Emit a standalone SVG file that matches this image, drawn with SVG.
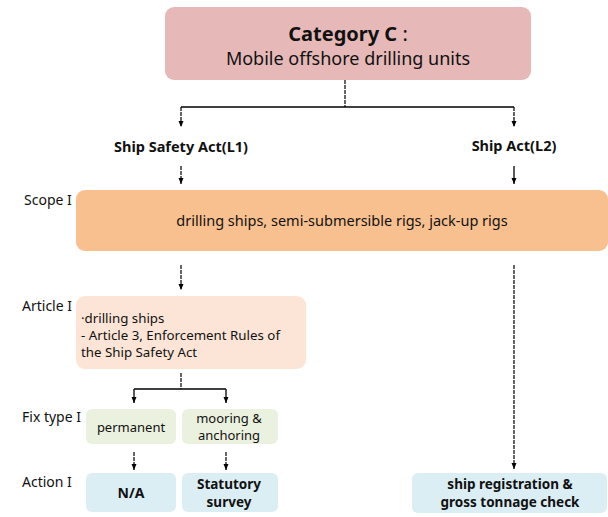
<svg xmlns="http://www.w3.org/2000/svg" width="608" height="517" viewBox="0 0 608 517">
<defs>
<marker id="arr" markerWidth="6" markerHeight="6" refX="6" refY="3" orient="auto" markerUnits="userSpaceOnUse">
<path d="M0,0.5 L6,3 L0,5.5 Z" fill="#000"/>
</marker>
</defs>
<style>
text{font-family:"Noto Sans","Open Sans",sans-serif;fill:#111}
.lbl{font-size:14px}
.b{font-weight:bold}
.c{text-anchor:middle}
.ln{fill:none;stroke:#000;stroke-width:1.3}
.dl{fill:none;stroke:#000;stroke-width:1.2;stroke-dasharray:4 1}
</style>
<rect width="608" height="517" fill="#fff"/>
<g id="connectors">
<path class="dl" d="M345,80 V107"/>
<path class="ln" d="M181,107 H514"/>
<path class="dl" d="M181,107 V127" marker-end="url(#arr)"/>
<path class="dl" d="M514,107 V127" marker-end="url(#arr)"/>
<path class="dl" d="M181,166 V184" marker-end="url(#arr)"/>
<path class="ln" d="M514,166 V184" marker-end="url(#arr)"/>
<path class="dl" d="M181,265 V290" marker-end="url(#arr)"/>
<path class="dl" d="M514,265 V469" marker-end="url(#arr)"/>
<path class="dl" d="M181,373 V389"/>
<path class="ln" d="M134,389 H226"/>
<path class="ln" d="M134,389 V403" marker-end="url(#arr)"/>
<path class="ln" d="M226,389 V403" marker-end="url(#arr)"/>
<path class="dl" d="M134,452 V470" marker-end="url(#arr)"/>
<path class="dl" d="M226,452 V470" marker-end="url(#arr)"/>
</g>
<g id="category">
<rect x="165" y="7" width="366" height="73" rx="9" fill="#E6B9B8"/>
<text x="348" y="41" class="c" style="font-size:20px"><tspan class="b">Category C</tspan> :</text>
<text x="348" y="65" class="c" style="font-size:18px">Mobile offshore drilling units</text>
</g>
<g id="l1">
<text x="181" y="152" class="c b" style="font-size:14.5px">Ship Safety Act(L1)</text>
</g>
<g id="l2">
<text x="514" y="151" class="c b" style="font-size:14.5px">Ship Act(L2)</text>
</g>
<g id="labels">
<text x="24" y="205" class="lbl">Scope I</text>
<text x="22" y="311" class="lbl">Article I</text>
<text x="22" y="422" class="lbl">Fix type I</text>
<text x="22" y="487" class="lbl">Action I</text>
</g>
<g id="scope">
<rect x="76" y="190" width="532" height="61" rx="9" fill="#F8C08F"/>
<text x="342" y="226" class="c" style="font-size:14.5px">drilling ships, semi-submersible rigs, jack-up rigs</text>
</g>
<g id="article">
<rect x="76" y="296" width="230" height="73" rx="9" fill="#FCE5D6"/>
<text x="81" y="323" style="font-size:13.3px">·drilling ships</text>
<text x="81" y="340" style="font-size:13.3px">- Article 3, Enforcement Rules of</text>
<text x="81" y="357" style="font-size:13.3px">the Ship Safety Act</text>
</g>
<g id="permanent">
<rect x="86" y="409" width="90" height="35" rx="6" fill="#EBF1DF"/>
<text x="131" y="432" class="c" style="font-size:13px">permanent</text>
</g>
<g id="mooring">
<rect x="182" y="409" width="96" height="35" rx="6" fill="#EBF1DF"/>
<text x="229" y="423" class="c" style="font-size:13px">mooring &amp;</text>
<text x="229" y="440" class="c" style="font-size:13px">anchoring</text>
</g>
<g id="na">
<rect x="86" y="473" width="90" height="39" rx="6" fill="#DBEEF4"/>
<text x="131" y="498" class="c b" style="font-size:14px">N/A</text>
</g>
<g id="statutory">
<rect x="182" y="473" width="96" height="39" rx="6" fill="#DBEEF4"/>
<text x="229" y="489" class="c b" style="font-size:13.5px">Statutory</text>
<text x="229" y="507" class="c b" style="font-size:13.5px">survey</text>
</g>
<g id="registration">
<rect x="412" y="473" width="195" height="40" rx="6" fill="#DBEEF4"/>
<text x="510" y="489" class="c b" style="font-size:13.5px">ship registration &amp;</text>
<text x="510" y="507" class="c b" style="font-size:13.5px">gross tonnage check</text>
</g>
</svg>
